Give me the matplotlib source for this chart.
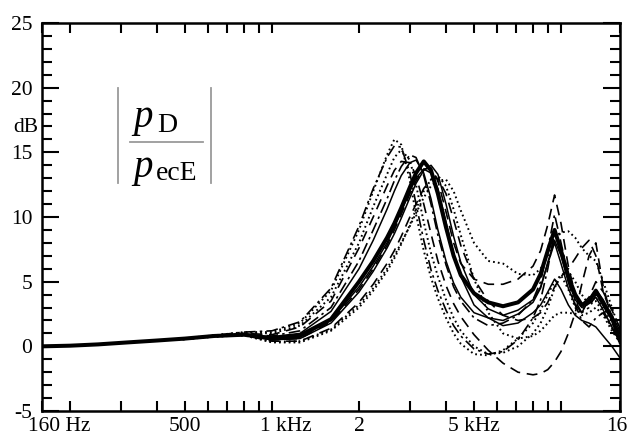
import matplotlib
matplotlib.use("Agg")
import matplotlib.pyplot as plt
from matplotlib.ticker import FixedLocator, NullFormatter
from matplotlib.transforms import ScaledTranslation, blended_transform_factory

plt.rcParams['font.family'] = ['Liberation Serif', 'DejaVu Serif']

# ---------------- data ----------------
freqs = [160, 200, 250, 315, 400, 500, 630, 800, 1000, 1250, 1600, 2000, 2240, 2500,
         2650, 2800, 3000, 3150, 3350, 3550, 3750, 4000, 4250, 4500, 5000, 5600, 6300,
         7100, 8000, 8500, 9000, 9500, 10000, 10600, 11200, 11800, 12500, 13200, 14000,
         15000, 16000]

curve_a_dotted = [0.0, 0.05, 0.15, 0.3, 0.45, 0.62, 0.85, 1.1, 1.1, 1.8, 4.3, 9.0, 12.0, 14.8,
                  16.0, 15.6, 12.8, 10.2, 7.4, 5.3, 3.7, 2.2, 1.0, 0.2, -0.6, -0.7, -0.3, 0.6,
                  1.8, 2.8, 4.0, 5.0, 5.5, 4.4, 3.0, 2.4, 2.6, 3.0, 2.4, 1.2, 0.3]
curve_b_dashdot = [0.0, 0.05, 0.15, 0.3, 0.45, 0.62, 0.85, 1.1, 1.2, 1.9, 4.5, 9.3, 12.2, 14.6,
                   15.5, 15.4, 13.4, 11.0, 8.2, 5.9, 4.3, 2.8, 1.6, 0.8, -0.2, -0.6, -0.4, 0.5,
                   2.2, 3.6, 6.0, 8.8, 7.5, 5.0, 3.2, 2.0, 1.5, 2.2, 2.6, 1.4, 0.6]
curve_l_dotted = [0.0, 0.05, 0.15, 0.3, 0.45, 0.62, 0.85, 1.05, 1.0, 1.6, 3.8, 8.0, 10.8, 13.3,
                  14.6, 15.2, 14.4, 12.5, 9.6, 7.2, 5.4, 3.6, 2.2, 1.2, 0.0, -0.6, -0.5, 0.0,
                  1.0, 1.8, 3.0, 4.5, 5.5, 5.8, 5.0, 4.0, 3.2, 3.5, 2.6, 1.5, 0.2]
curve_c_dashed = [0.0, 0.05, 0.15, 0.3, 0.45, 0.6, 0.82, 1.0, 0.9, 1.5, 3.5, 7.6, 10.0, 12.4,
                  13.6, 14.3, 14.2, 13.2, 11.0, 8.7, 6.6, 4.7, 3.3, 2.3, 0.9, -0.3, -1.3, -2.0,
                  -2.2, -2.1, -1.8, -1.2, -0.4, 1.0, 2.6, 4.8, 7.0, 8.0, 4.6, 2.2, 1.0]
curve_d_dashdot = [0.0, 0.05, 0.15, 0.3, 0.45, 0.6, 0.8, 0.95, 0.8, 1.2, 3.0, 6.6, 9.0, 11.4,
                   12.8, 13.9, 14.8, 14.6, 13.2, 11.0, 8.6, 6.3, 4.6, 3.5, 2.2, 1.6, 1.8, 2.4,
                   3.6, 5.0, 7.5, 10.2, 8.0, 5.5, 3.5, 2.6, 3.0, 4.0, 3.2, 2.0, 0.8]
curve_e_solid = [0.0, 0.05, 0.15, 0.3, 0.45, 0.6, 0.8, 0.95, 0.75, 1.0, 2.7, 6.0, 8.2, 10.6,
                 12.0, 13.2, 14.2, 14.4, 13.4, 11.4, 9.0, 6.6, 4.9, 3.8, 2.6, 2.2, 2.0, 2.5,
                 3.4, 4.5, 6.5, 8.2, 7.0, 5.0, 3.6, 3.0, 3.3, 3.8, 2.8, 1.5, 0.3]
curve_f_solid = [0.0, 0.05, 0.15, 0.3, 0.45, 0.58, 0.78, 0.9, 0.55, 0.7, 2.0, 4.6, 6.2, 8.0,
                 9.2, 10.4, 12.0, 13.0, 13.7, 13.4, 12.2, 9.6, 7.2, 5.4, 3.2, 2.2, 1.6, 1.8,
                 2.6, 3.2, 4.2, 5.2, 4.4, 3.2, 2.4, 2.0, 1.8, 1.5, 0.8, 0.0, -0.9]
curve_g_solid = [0.0, 0.05, 0.15, 0.3, 0.45, 0.58, 0.78, 0.88, 0.5, 0.6, 1.8, 4.2, 5.8, 7.6,
                 8.7, 9.9, 11.5, 12.6, 13.6, 14.0, 13.3, 11.0, 8.5, 6.5, 4.0, 2.9, 2.4, 2.8,
                 3.6, 4.6, 6.4, 8.0, 6.4, 4.5, 3.2, 2.6, 3.6, 4.4, 3.6, 2.4, 1.2]
curve_h_dotted = [0.0, 0.05, 0.15, 0.3, 0.45, 0.55, 0.75, 0.85, 0.35, 0.4, 1.3, 3.2, 4.5, 6.0,
                  7.0, 8.0, 9.3, 10.3, 11.5, 12.4, 12.8, 12.9, 12.0, 10.5, 8.0, 6.6, 6.4, 5.6,
                  5.5, 6.0, 7.0, 8.2, 8.8, 8.9, 8.4, 7.6, 7.0, 6.6, 5.0, 3.0, 1.2]
curve_i_dotted = [0.0, 0.05, 0.15, 0.3, 0.45, 0.55, 0.75, 0.85, 0.3, 0.3, 1.2, 3.0, 4.3, 5.8,
                  6.8, 7.9, 9.4, 10.6, 12.0, 12.9, 13.2, 12.4, 10.6, 8.6, 5.2, 2.6, 1.0, 0.6,
                  0.8, 1.2, 1.8, 2.4, 2.6, 2.6, 2.5, 2.8, 3.4, 3.8, 3.0, 1.8, 0.4]
curve_j_dashed = [0.0, 0.05, 0.15, 0.3, 0.45, 0.58, 0.78, 0.9, 0.5, 0.6, 1.9, 4.4, 6.0, 7.8,
                  9.0, 10.2, 11.8, 12.8, 13.7, 13.8, 12.8, 10.4, 8.0, 6.4, 5.2, 4.8, 4.8, 5.2,
                  6.2, 7.4, 9.4, 11.7, 9.5, 6.2, 4.0, 3.2, 3.8, 5.0, 4.2, 2.8, 1.4]
curve_k_dashed = [0.0, 0.05, 0.15, 0.3, 0.45, 0.55, 0.75, 0.85, 0.4, 0.4, 1.4, 3.4, 4.8, 6.4,
                  7.4, 8.5, 10.0, 11.0, 12.2, 12.9, 13.0, 11.8, 9.8, 7.8, 5.2, 3.5, 2.4, 2.0,
                  2.2, 2.6, 3.4, 4.6, 5.4, 6.0, 6.8, 7.6, 8.2, 7.0, 4.2, 2.4, 1.0]
mean_curve = [0.0, 0.05, 0.15, 0.3, 0.45, 0.6, 0.8, 0.9, 0.6, 0.85, 2.1, 5.0, 6.6, 8.4,
              9.5, 10.7, 12.3, 13.4, 14.3, 13.6, 11.8, 9.2, 7.0, 5.5, 4.1, 3.4, 3.1, 3.4,
              4.4, 5.6, 7.4, 9.0, 7.4, 5.4, 4.0, 3.2, 3.5, 4.3, 3.3, 2.2, 0.4]

xtick_major = [160, 500, 1000, 2000, 5000, 16000]
xtick_labels = ["160 Hz", "500", "1 kHz", "2", "5 kHz", "16"]
xtick_minor = [200, 300, 400, 600, 700, 800, 900, 3000, 4000, 6000, 7000, 8000, 9000, 10000]
ytick_major = [-5, 0, 5, 10, 15, 20, 25]

# ---------------- figure ----------------
W, H = 627, 437
fig = plt.figure(figsize=(W / 100, H / 100), dpi=100)
ax = fig.add_axes([42 / W, 1 - 411 / H, (620 - 42) / W, (411 - 23) / H])

dotted = dict(color='black', lw=1.4, dashes=(0.9, 1.6))
dashed = dict(color='black', lw=1.2, dashes=(6.5, 4))
dashdot = dict(color='black', lw=1.2, dashes=(7, 2.5, 1.5, 2.5))
solid = dict(color='black', lw=1.1, linestyle='-')

ax.plot(freqs, curve_a_dotted, **dotted)
ax.plot(freqs, curve_b_dashdot, **dashdot)
ax.plot(freqs, curve_l_dotted, **dotted)
ax.plot(freqs, curve_c_dashed, **dashed)
ax.plot(freqs, curve_d_dashdot, **dashdot)
ax.plot(freqs, curve_e_solid, **solid)
ax.plot(freqs, curve_f_solid, **solid)
ax.plot(freqs, curve_g_solid, **solid)
ax.plot(freqs, curve_h_dotted, **dotted)
ax.plot(freqs, curve_i_dotted, **dotted)
ax.plot(freqs, curve_j_dashed, **dashed)
ax.plot(freqs, curve_k_dashed, **dashed)
ax.plot(freqs, mean_curve, color='black', lw=2.9, solid_capstyle='round',
        solid_joinstyle='round')

ax.set_xscale('log')
ax.set_xlim(160, 16000)
ax.set_ylim(-5, 25)

ax.xaxis.set_major_locator(FixedLocator(xtick_major))
ax.set_xticklabels(xtick_labels)
ax.xaxis.set_minor_locator(FixedLocator(xtick_minor))
ax.xaxis.set_minor_formatter(NullFormatter())
ax.yaxis.set_major_locator(FixedLocator(ytick_major))
ax.yaxis.set_minor_locator(FixedLocator(list(range(-5, 26))))
ax.set_yticklabels([str(v) for v in ytick_major])

ax.tick_params(axis='both', which='both', direction='in', top=True, right=True,
               colors='black', labelsize=15.5)
ax.tick_params(axis='x', which='both', length=7.5, width=1.5, pad=4)
ax.tick_params(axis='y', which='major', length=12, width=1.5, pad=7)
ax.tick_params(axis='y', which='minor', length=7, width=1.5)
for s in ax.spines.values():
    s.set_linewidth(1.8)

# shift some x labels like the reference
shifts = {"160 Hz": 17, "1 kHz": 14, "16": -3}
for lab in ax.get_xticklabels():
    t = lab.get_text()
    if t in shifts:
        lab.set_transform(lab.get_transform() + ScaledTranslation(shifts[t] / 100, 0, fig.dpi_scale_trans))

# dB unit label
tr = blended_transform_factory(fig.transFigure, ax.transData)
ax.text(38 / W, 16.9, "dB", transform=tr, ha='right', va='center', fontsize=15.5)

# |p_D / p_ecE| annotation
def fx(x):
    return x / W

def fy(y):
    return 1 - y / H

gray = '#9a9a9a'
fig.add_artist(plt.Line2D([fx(118), fx(118)], [fy(88), fy(183)], color=gray, lw=1.3))
fig.add_artist(plt.Line2D([fx(211), fx(211)], [fy(88), fy(183)], color=gray, lw=1.3))
fig.add_artist(plt.Line2D([fx(130), fx(203)], [fy(142), fy(142)], color=gray, lw=1.3))
fig.text(fx(133), fy(126.5), "p", fontsize=28, fontstyle='italic', ha='left', va='baseline')
fig.text(fx(157), fy(131.5), "D", fontsize=20, ha='left', va='baseline')
fig.text(fx(133), fy(176.5), "p", fontsize=28, fontstyle='italic', ha='left', va='baseline')
fig.text(fx(156), fy(180.5), "ecE", fontsize=20, ha='left', va='baseline')

fig.savefig("out.png", dpi=100)
